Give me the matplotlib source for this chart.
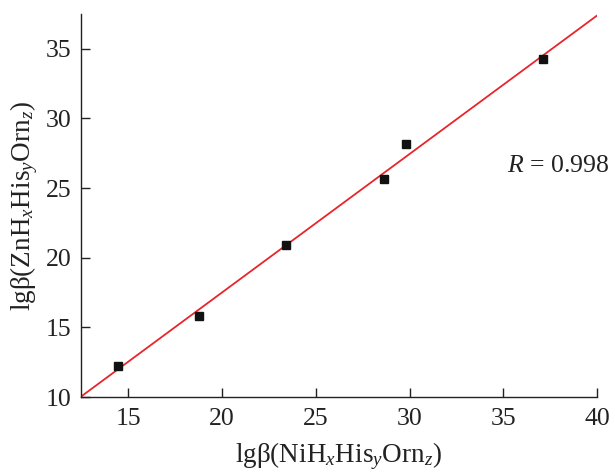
import numpy as np
import matplotlib
matplotlib.use("Agg")
import matplotlib.pyplot as plt

# data
ni_lgb = [14.42, 18.79, 23.42, 28.65, 29.82, 37.12]
zn_lgb = [12.23, 15.82, 20.92, 25.66, 28.18, 34.28]
xticks = [15, 20, 25, 30, 35, 40]
yticks = [10, 15, 20, 25, 30, 35]
r_text = "0.998"

plt.rcParams['font.family'] = ['Liberation Serif', 'DejaVu Serif']
plt.rcParams['mathtext.fontset'] = 'custom'
plt.rcParams['mathtext.rm'] = 'Liberation Serif'
plt.rcParams['mathtext.it'] = 'Liberation Serif:italic'

fig = plt.figure(figsize=(6.15, 4.75), dpi=100)
ax = fig.add_axes([81/615, 1-397/475, (597-81)/615, (397-14)/475])

xmin, xmax = 12.47, 40.0
coef = np.polyfit(ni_lgb, zn_lgb, 1)
xl = np.array([xmin, xmax])
ax.plot(xl, np.polyval(coef, xl), color='#e8252b', lw=1.3, zorder=2)
ax.plot(ni_lgb, zn_lgb, 's', color='#111111', ms=5.2, zorder=3)

ax.set_xlim(xmin, xmax)
ax.set_ylim(10, 37.5)
ax.set_xticks(xticks)
ax.set_yticks(yticks)
for s in ['top', 'right']:
    ax.spines[s].set_visible(False)
for s in ['left', 'bottom']:
    ax.spines[s].set_linewidth(1.0)
    ax.spines[s].set_color('#222222')
ax.tick_params(direction='in', length=6.5, width=1.0, labelsize=18.5, colors='#222222', pad=7)
ax.tick_params(axis='x', pad=8)

ax.set_xlabel(r'lgβ(NiH$_{x}$His$_{y}$Orn$_{z}$)', fontsize=19.5, color='#222222', labelpad=7)
ax.set_ylabel(r'lgβ(ZnH$_{x}$His$_{y}$Orn$_{z}$)', fontsize=19.5, color='#222222', labelpad=4)

ax.text(35.2, 26.6, r'$R$ = ' + r_text, fontsize=18.5, color='#222222', va='center', ha='left', clip_on=False)

fig.savefig('out.png', dpi=100)
